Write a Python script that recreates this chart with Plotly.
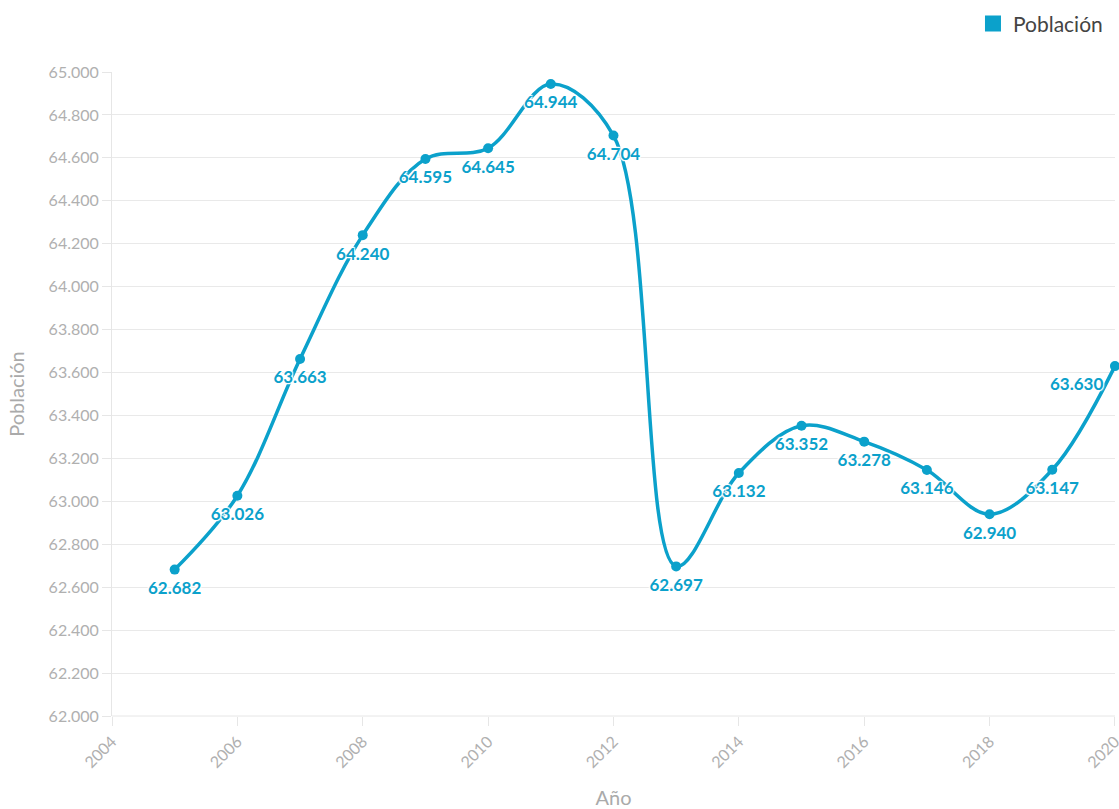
import plotly.graph_objects as go

years = [2005, 2006, 2007, 2008, 2009, 2010, 2011, 2012, 2013, 2014, 2015, 2016, 2017, 2018, 2019, 2020]
poblacion = [62682, 63026, 63663, 64240, 64595, 64645, 64944, 64704, 62697, 63132, 63352, 63278, 63146, 62940, 63147, 63630]
x_ticks = [2004, 2006, 2008, 2010, 2012, 2014, 2016, 2018, 2020]
y_ticks = [62000, 62200, 62400, 62600, 62800, 63000, 63200, 63400, 63600, 63800, 64000, 64200, 64400, 64600, 64800, 65000]

color = "#0ba1cb"
font = "Lato, 'Open Sans', sans-serif"
positions = ["bottom center"] * (len(years) - 1) + ["bottom left"]

fig = go.Figure()
fig.add_trace(go.Scatter(
    x=years, y=poblacion, mode="lines+markers",
    line=dict(color=color, width=3.5, shape="spline", smoothing=1.0),
    marker=dict(color=color, size=10),
    showlegend=False, cliponaxis=False, name="Población",
))
fig.add_trace(go.Scatter(
    x=years, y=poblacion, mode="markers+text",
    marker=dict(color="rgba(0,0,0,0)", size=17),
    texttemplate="%{y:,d}", textposition=positions,
    textfont=dict(family=font, size=17, color=color, weight="bold",
                  shadow="1px 1px 1px white, -1px -1px 1px white, 1px -1px 1px white, -1px 1px 1px white, 0px 0px 3px white"),
    showlegend=False, cliponaxis=False, hoverinfo="skip",
))
fig.add_trace(go.Scatter(
    x=[None], y=[None], mode="markers", name="Población",
    marker=dict(color=color, size=18, symbol="square"),
    showlegend=True,
))

fig.update_layout(
    width=1119, height=809,
    margin=dict(l=112, r=4, t=71, b=93),
    paper_bgcolor="white", plot_bgcolor="white",
    separators=",.",
    font=dict(family=font, color="#999999"),
    legend=dict(x=0.993, xanchor="right", y=1.073, yanchor="middle", orientation="h",
                font=dict(family=font, size=21, color="#444444"), itemwidth=30),
    xaxis=dict(range=[2004, 2020.001], tickvals=x_ticks, tickangle=-45, automargin=False,
               ticklabeloverflow="allow",
               tickfont=dict(size=16, color="#b0b0b0"),
               showgrid=False, zeroline=False,
               showline=False, ticks="outside", ticklen=9, tickcolor="#e6e6e6",
               title=dict(text="Año", font=dict(size=20, color="#aaaaaa"), standoff=34)),
    yaxis=dict(range=[62000, 65000], tickvals=y_ticks, tickformat=",d", automargin=False,
               tickfont=dict(size=16, color="#b0b0b0"),
               showgrid=True, gridcolor="#e9e9e9", gridwidth=1, zeroline=False,
               showline=True, linecolor="#e6e6e6", linewidth=1,
               ticks="outside", ticklen=9, tickcolor="#e6e6e6",
               title=dict(text="Población", font=dict(size=20, color="#aaaaaa"), standoff=18)),
)
fig.add_shape(type="line", xref="paper", yref="paper", x0=0, x1=1, y0=0, y1=0,
              line=dict(color="#e6e6e6", width=1), layer="below")

fig.write_html("out.html")
